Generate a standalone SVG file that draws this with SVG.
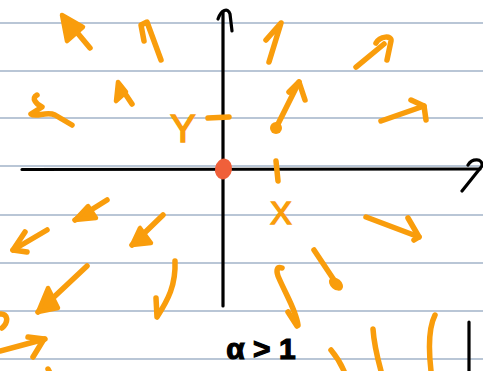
<svg xmlns="http://www.w3.org/2000/svg" width="483" height="371" viewBox="0 0 483 371">
<style>
.rule{stroke:#b9c6d6;stroke-width:2;fill:none}
.ax{stroke:#000;stroke-width:3.2;fill:none;stroke-linecap:round;stroke-linejoin:round}
.o{stroke:#f99d0c;stroke-width:5.5;fill:none;stroke-linecap:round;stroke-linejoin:round}
.of{fill:#f99d0c;stroke:#f99d0c;stroke-width:4.5;stroke-linejoin:round}
.lbl{font-family:"Liberation Sans",Arial,sans-serif;fill:#f99d0c;stroke:#f99d0c;stroke-width:1.5}
.blk{font-family:"Liberation Sans",Arial,sans-serif;fill:#000;stroke:#000;stroke-width:1.2;font-weight:bold}
</style>
<rect width="483" height="371" fill="#fff"/>
<g id="rules">
<line class="rule" x1="0" y1="23" x2="483" y2="23"/>
<line class="rule" x1="0" y1="71" x2="483" y2="71"/>
<line class="rule" x1="0" y1="118" x2="483" y2="118"/>
<line class="rule" x1="0" y1="166" x2="483" y2="166"/>
<line class="rule" x1="0" y1="215" x2="483" y2="215"/>
<line class="rule" x1="0" y1="263" x2="483" y2="263"/>
<line class="rule" x1="0" y1="311" x2="483" y2="311"/>
<line class="rule" x1="0" y1="359" x2="483" y2="359"/>
</g>
<g id="axes">
<path class="ax" d="M223,306 L223,12"/>
<path class="ax" d="M218,19 C221,10 228,7 230,14 L232,31" stroke-width="4"/>
<path class="ax" d="M22,169.5 L480,169"/>
<path class="ax" d="M468,165 C472,158 483,158 482,166 L462,191"/>
</g>
<g id="field">
<path class="o" d="M90,48 L65,18"/>
<path class="of" d="M62,15 L83,27 L67,41 Z"/>
<path class="o" d="M161,60 L147,22 L141,25 L144,41"/>
<path class="o" d="M37,95 C31,98 36,104 42,107 L31,114 C36,118 46,111 55,115 L72,125"/>
<path class="o" d="M132,104 L120,86"/>
<path class="of" d="M118,82 L126,92 L116,101 Z"/>
<text class="lbl" x="183" y="142" font-size="38" text-anchor="middle">Y</text>
<path class="o" d="M208,118 L229,117"/>
<path class="o" d="M269,62 L281,23 L266,40"/>
<path class="o" d="M356,67 L384,44"/>
<path class="o" d="M376,43 C380,36 392,35 391,41 L387,60"/>
<circle cx="276" cy="128" r="6" fill="#f99d0c"/>
<path class="o" d="M276,128 L299,82"/>
<path class="o" d="M289,92 L299,82 L305,100"/>
<path class="o" d="M381,121 L424,106"/>
<path class="o" d="M411,100 L424,106 L426,120"/>
<path class="o" d="M276,161 L278,181"/>
<text class="lbl" x="281" y="224" font-size="32" text-anchor="middle">X</text>
<path class="o" d="M366,217 L419,237"/>
<path class="o" d="M408,218 L419,237 L414,240"/>
<path class="o" d="M314,250 L336,283"/>
<ellipse cx="336" cy="284" rx="8" ry="5.5" transform="rotate(40 336 284)" fill="#f99d0c"/>
<path class="o" d="M282,268 C277,266 276,270 278,276 C286,295 296,310 298,325"/>
<path class="o" d="M288,312 L297,326"/>
<path class="o" d="M107,200 L75,220"/>
<path class="of" d="M88,206 L75,220 L96,218 Z"/>
<path class="o" d="M47,230 L13,250"/>
<path class="o" d="M25,232 L13,250 L27,252"/>
<path class="o" d="M163,215 L132,245"/>
<path class="of" d="M140,228 L132,245 L151,243 Z"/>
<path class="o" d="M87,266 L38,312"/>
<path class="of" d="M48,288 L38,312 L58,308 Z"/>
<path class="o" d="M175,261 C176,285 168,300 157,317 L156,298"/>
<path class="o" d="M0,314 C8,313 9,322 2,328"/>
<path class="o" d="M0,351 L45,339"/>
<path class="o" d="M28,337 L44,339 L33,357"/>
<path class="o" d="M48,369 L50,373"/>
<path class="o" d="M331,350 C336,356 341,364 344,371" stroke-width="4"/>
<path class="o" d="M373,329 C374,345 378,360 381,371" stroke-width="4"/>
<path class="o" d="M435,315 C430,325 428,345 431,371" stroke-width="3"/>
</g>
<g id="origin">
<ellipse cx="223.5" cy="169" rx="8.5" ry="10.5" transform="rotate(10 223.5 169)" fill="#f0603a"/>
</g>
<g id="note">
<text class="blk" x="261" y="359" font-size="30" text-anchor="middle">α &gt; 1</text>
<path class="ax" d="M469,322 L469,371"/>
</g>
</svg>
